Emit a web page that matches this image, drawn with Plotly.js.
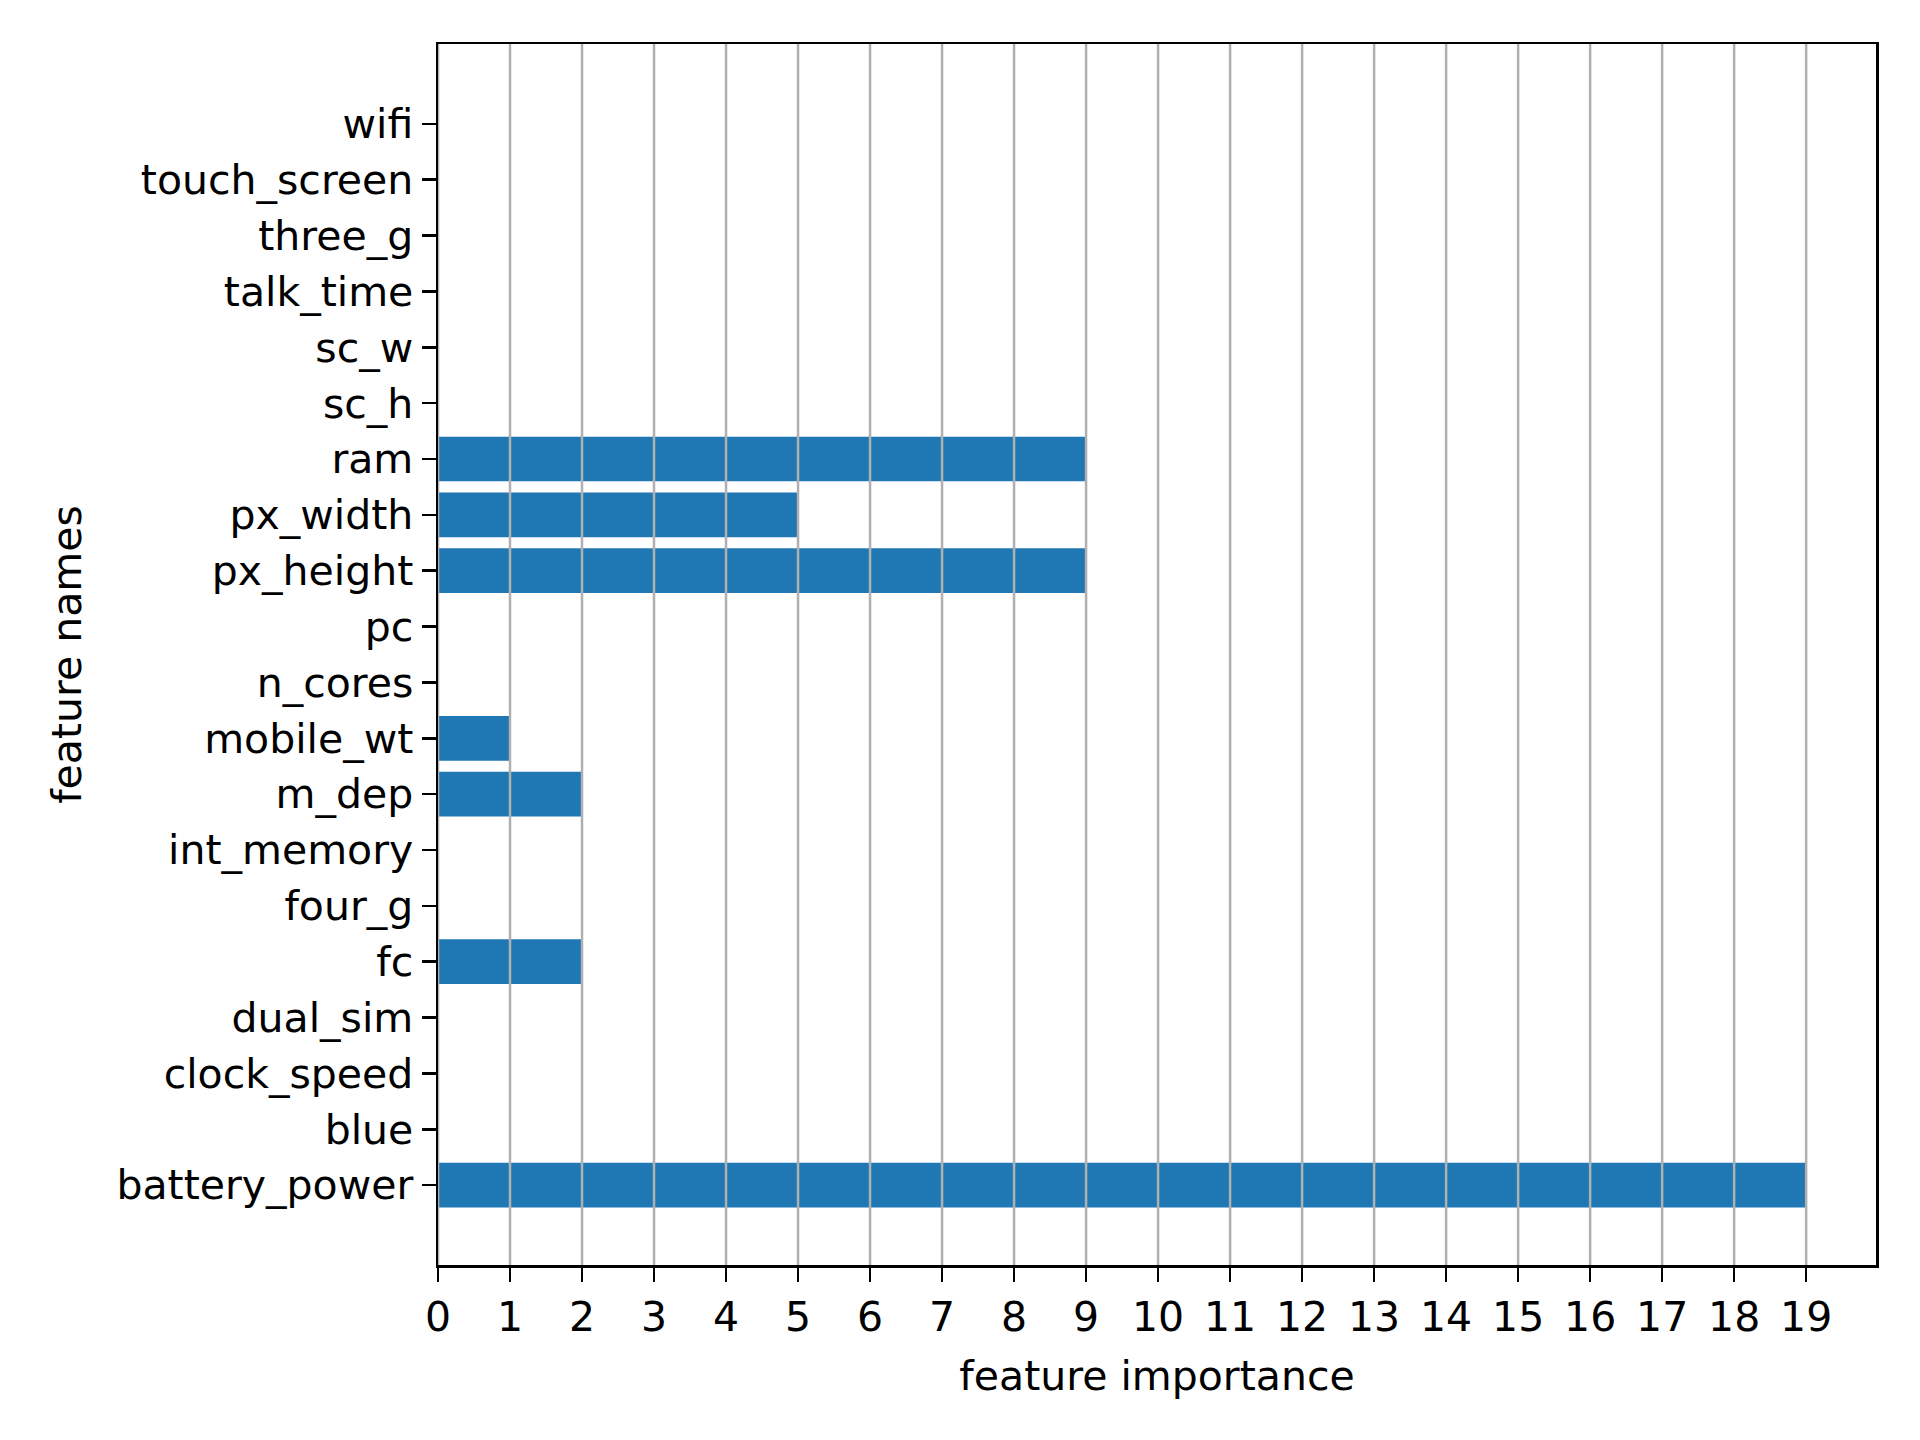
<!DOCTYPE html>
<html>
<head>
<meta charset="utf-8">
<script src="https://cdn.plot.ly/plotly-3.0.1.min.js"></script>
<style>body{margin:0;background:#fff}#chart{width:1920px;height:1440px}</style>
</head>
<body>
<div id="chart"></div>
<script>
// feature importance per feature
const featureNames = ['battery_power', 'blue', 'clock_speed', 'dual_sim', 'fc', 'four_g',
    'int_memory', 'm_dep', 'mobile_wt', 'n_cores', 'pc', 'px_height', 'px_width', 'ram',
    'sc_h', 'sc_w', 'talk_time', 'three_g', 'touch_screen', 'wifi'];
const importance = [19, 0, 0, 0, 2, 0, 0, 2, 1, 0, 0, 9, 5, 9, 0, 0, 0, 0, 0, 0];
const xTicks = [0, 1, 2, 3, 4, 5, 6, 7, 8, 9, 10, 11, 12, 13, 14, 15, 16, 17, 18, 19];

const font = { family: 'DejaVu Sans, sans-serif', size: 41, color: '#000' };

// grid lines drawn over the bars, like matplotlib does here
const gridShapes = xTicks.map(t => ({
    type: 'line', xref: 'x', yref: 'paper', x0: t, x1: t, y0: 0, y1: 1,
    line: { color: '#b0b0b0', width: 2.5 }, layer: 'above'
}));

const trace = {
    type: 'bar',
    orientation: 'h',
    x: importance,
    y: featureNames.map((_, i) => i),
    width: 0.8,
    marker: { color: '#1f77b4', line: { width: 0 } },
    hoverinfo: 'skip'
};

const layout = {
    width: 1920, height: 1440,
    paper_bgcolor: '#fff', plot_bgcolor: '#fff',
    font: font,
    margin: { l: 438, r: 44, t: 44, b: 175 },
    showlegend: false,
    shapes: gridShapes,
    xaxis: {
        range: [0, 19.97],
        tickvals: xTicks,
        ticktext: xTicks.map(String),
        showgrid: false, zeroline: false,
        ticks: 'outside', ticklen: 14, tickwidth: 2.5, tickcolor: '#000',
        showline: true, linecolor: '#000', linewidth: 2.5, mirror: true,
        tickfont: font,
        title: { text: 'feature importance', font: font, standoff: 22 }
    },
    yaxis: {
        range: [-1.43, 20.43],
        tickvals: featureNames.map((_, i) => i),
        ticktext: featureNames,
        showgrid: false, zeroline: false,
        ticks: 'outside', ticklen: 14, tickwidth: 2.5, tickcolor: '#000',
        showline: true, linecolor: '#000', linewidth: 2.5, mirror: true,
        tickfont: font,
        title: { text: 'feature names', font: font, standoff: 22 }
    }
};

Plotly.newPlot('chart', [trace], layout, { displayModeBar: false, staticPlot: true });
</script>
</body>
</html>
